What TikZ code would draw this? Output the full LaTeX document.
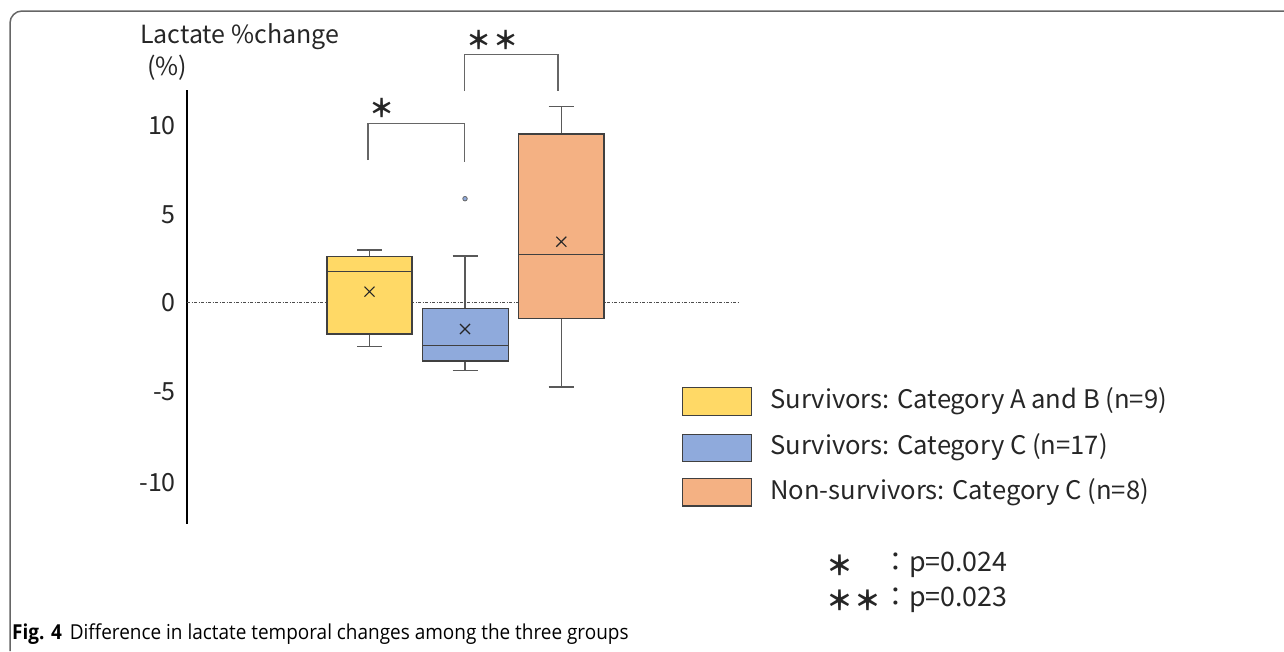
\documentclass[tikz,border=0pt]{standalone}
\usepackage{fontspec}
\setmainfont{Noto Sans CJK JP}
\newfontfamily\capfont[FakeStretch=0.92]{Open Sans}
\begin{document}
\begin{tikzpicture}[x=1pt,y=-1pt,
  boxfill/.style={draw=black!75, line width=1.4pt, inner sep=0pt, outer sep=0pt},
  whisk/.style={draw=black!65, line width=1.3pt},
  brack/.style={draw=black!60, line width=1.1pt},
  txt/.style={font=\fontsize{25}{28}\selectfont, text=black!85, inner sep=0pt},
  lgtxt/.style={font=\fontsize{25.6}{28}\selectfont, text=black!85, inner sep=0pt, anchor=west},
  pvtxt/.style={font=\fontsize{26.8}{28}\selectfont, text=black!85, inner sep=0pt, anchor=west},
  meanx/.style={draw=black!85, line width=1.1pt}
]
\definecolor{cyel}{RGB}{255,217,102}
\definecolor{cblu}{RGB}{143,170,220}
\definecolor{cora}{RGB}{244,177,131}
\useasboundingbox (0,0) rectangle (1284,651);
% frame
\draw[draw=black!60, line width=1.5pt, rounded corners=12pt] (10,651) -- (10,11) -- (1284,11);
% axis title
\node[txt, anchor=west] (title) at (140,37) {Lactate \%change};
\node[txt, anchor=west] (unit) at (147,68) {(\%)};
% axis
\coordinate (atop) at (187,90);
\coordinate (abot) at (187,524);
\draw[line width=2.6pt] (atop) -- (abot);
\foreach \v/\yy in {10/126,5/215,0/303,-5/392,-10/483}{
  \node[txt, anchor=east] (t\v) at (176,\yy) {\v};
}
% zero line
\coordinate (z0) at (187,302.5);
\coordinate (z1) at (740,302.5);
\draw[black!70, line width=0.7pt, dash pattern=on 3pt off 1.5pt on 1pt off 1.5pt] (z0) -- (z1);
% Yellow box
\draw[whisk] (369.5,250) -- (369.5,256.7) (369.5,346.5) -- (369.5,334);
\draw[whisk] (357,250) -- (382,250) (357,346.5) -- (382,346.5);
\node[boxfill, fill=cyel, minimum width=85pt, minimum height=77.3pt, anchor=north west] (ybox) at (327,256.7) {};
\draw[boxfill] (327,271.7) -- (412,271.7);
\draw[meanx] (364.5,286.7) -- (374.5,296.7) (364.5,296.7) -- (374.5,286.7);
% Blue box
\draw[whisk] (465,256) -- (465,308.7) (465,361) -- (465,370.7);
\draw[whisk] (452.5,256) -- (477.5,256) (452.5,370.7) -- (477.5,370.7);
\node[boxfill, fill=cblu, minimum width=86.4pt, minimum height=52.3pt, anchor=north west] (bbox) at (422.3,308.7) {};
\draw[boxfill] (422.3,345.7) -- (508.7,345.7);
\draw[meanx] (460,324) -- (470,334) (460,334) -- (470,324);
\node[draw=black!60, fill=cblu, circle, inner sep=0pt, minimum size=4.5pt, line width=0.8pt] (outl) at (465,198.7) {};
% Orange box
\draw[whisk] (561.3,106.3) -- (561.3,134) (561.3,318.3) -- (561.3,387);
\draw[whisk] (548.7,106.3) -- (574,106.3) (548.7,387) -- (574,387);
\node[boxfill, fill=cora, minimum width=85.7pt, minimum height=184.3pt, anchor=north west] (obox) at (518.3,134) {};
\draw[boxfill] (518.3,254.3) -- (604,254.3);
\draw[meanx] (556.3,236.7) -- (566.3,246.7) (556.3,246.7) -- (566.3,236.7);
% brackets
\draw[brack] (368,160) -- (368,123.3) -- (464.3,123.3) -- (464.3,161.7);
\node[txt] (s1) at (382,108) {\textbf{＊}};
\draw[brack] (464.3,91) -- (464.3,54.3) -- (558,54.3) -- (558,91);
\node[txt] (s2) at (492,40) {\textbf{＊\hspace{2pt}＊}};
% legend
\node[boxfill, fill=cyel, minimum width=69pt, minimum height=28pt, anchor=north west] (l1) at (682.7,387.3) {};
\node[boxfill, fill=cblu, minimum width=69pt, minimum height=27.4pt, anchor=north west] (l2) at (682.7,434.3) {};
\node[boxfill, fill=cora, minimum width=69pt, minimum height=27.7pt, anchor=north west] (l3) at (682.7,478.3) {};
\node[lgtxt] (lt1) at (770,401) {Survivors: Category A and B (n=9)};
\node[lgtxt] (lt2) at (770,447) {Survivors: Category C (n=17)};
\node[lgtxt] (lt3) at (770,492) {Non-survivors: Category C (n=8)};
% p values
\node[pvtxt] (p1s) at (826,565) {\textbf{＊}};
\node[pvtxt] (p1) at (882,565) {：p=0.024};
\node[pvtxt] (p2s) at (826,600) {\textbf{＊\hspace{2pt}＊}};
\node[pvtxt] (p2) at (882,600) {：p=0.023};
% caption
\node[anchor=west, inner sep=0pt, font=\capfont\fontsize{20.6}{22}\selectfont] (cap) at (12,634) {\textbf{Fig. 4}\hspace{8pt}Difference in lactate temporal changes among the three groups};
\end{tikzpicture}
\end{document}
